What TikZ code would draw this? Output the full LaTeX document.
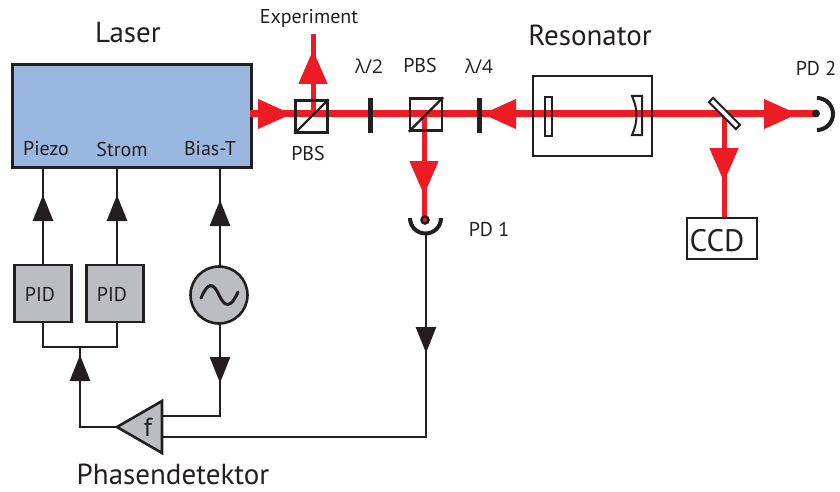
\documentclass[tikz,border=0pt]{standalone}
\usepackage{fontspec}
\setmainfont{PT Sans}
\newfontfamily\greekfont{Open Sans}
\usetikzlibrary{arrows.meta,decorations.markings}
\definecolor{beamred}{HTML}{ED1C24}
\definecolor{ink}{HTML}{231F20}
\definecolor{laserblue}{HTML}{9AB7DF}
\definecolor{boxgray}{HTML}{BBBDC0}
\newcommand{\fsz}[1]{\fontsize{#1}{#1}\selectfont}
\tikzset{
  wire/.style={draw=ink,line width=2.6pt},
  beam/.style={draw=beamred,line width=7pt},
  thinbeam/.style={draw=beamred,line width=5pt},
  blackhead/.style={postaction={decorate,decoration={markings,mark=at position #1 with {\arrow{Triangle[length=26pt,width=20pt,fill=ink]}}}}},
  redhead/.style={postaction={decorate,decoration={markings,mark=at position #1 with {\arrow[beamred]{Triangle[length=34pt,width=28pt,fill=beamred]}}}}},
  optic/.style={draw=ink,line width=2.4pt},
  plate/.style={draw=ink,fill=ink,inner sep=0pt,minimum width=3pt,minimum height=33pt,line width=2pt},
  pidbox/.style={draw=ink,line width=2.6pt,fill=boxgray,minimum width=57pt,minimum height=57pt,inner sep=0pt},
  lbl/.style={inner sep=0pt,text=ink,font=\fsz{20}},
  biglbl/.style={inner sep=0pt,text=ink,font=\fsz{29}},
  cube/.style={draw=ink,line width=2.4pt,minimum size=32pt,inner sep=0pt}
}
\begin{document}
\begin{tikzpicture}[x=1pt,y=-1pt]
\useasboundingbox (0,0) rectangle (840,492);
% laser
\node[draw=ink,line width=3pt,fill=laserblue,minimum width=239pt,minimum height=102pt,inner sep=0pt] (laser) at (131.5,116) {};
\coordinate (laserout) at (250,114);
\coordinate (lamfourin) at (482,114);
\coordinate (bsc) at (724,114);
\coordinate (pdtwoc) at (816,114);
\coordinate (pdonec) at (424,219);
\coordinate (expout) at (313,34);
\coordinate (pbsaout) at (313,114);
\coordinate (pbsbout) at (424,114);
% beams
\draw[thinbeam,redhead=64pt] (pbsaout) -- (expout);
\draw[thinbeam,redhead=81pt] (pbsbout) -- (pdonec);
\node[draw=ink,line width=2.6pt,minimum width=70pt,minimum height=41pt,inner sep=0pt] (ccd) at (722,238.5) {};
\draw[thinbeam,redhead=68pt] (bsc) -- (bsc |- ccd.north);
\draw[beam,redhead=42pt] (laserout) -- (lamfourin);
\draw[beam,redhead=242pt] (bsc) -- (lamfourin);
\draw[beam,redhead=74pt] (bsc) -- (pdtwoc);
% optics
\node[cube] (pbsa) at (311.5,116.5) {};
\draw[optic] (pbsa.south west) -- (pbsa.north east);
\node[cube] (pbsb) at (426,114.5) {};
\draw[optic] (pbsb.south west) -- (pbsb.north east);
\node[plate] (lamtwo) at (370,115.5) {};
\node[plate] (lamfour) at (479.5,115.5) {};
\node[draw=ink,line width=2.4pt,minimum width=119pt,minimum height=80pt,inner sep=0pt] (res) at (592.5,116) {};
\node[draw=ink,line width=2pt,minimum width=7pt,minimum height=38pt,inner sep=0pt] (mirrora) at (548,116.5) {};
\draw[optic,line width=2pt] (632,96) -- (642,96) -- (642,135) -- (632,135) .. controls (638,122) and (638,109) .. (632,96) -- cycle;
\node[draw=ink,fill=white,line width=2pt,minimum width=38pt,minimum height=6pt,inner sep=0pt,rotate=-45] (splitter) at (724.5,113.5) {};
% detectors
\node[circle,fill=ink,minimum size=8pt,inner sep=0pt] (pdtwo) at (816,113.5) {};
\draw[draw=ink,line width=4pt] (817,98) arc[start angle=-90,end angle=90,radius=16];
\node[circle,draw=ink,fill=beamred,line width=2.5pt,minimum size=7pt,inner sep=0pt] (pdone) at (425,220) {};
\draw[draw=ink,line width=4pt] (410,218) arc[start angle=180,end angle=0,radius=15.5];
\coordinate (pdoneb) at (426,234);
% electronics
\node[pidbox] (pida) at (43,293.5) {};
\node[pidbox] (pidb) at (115,293.5) {};
\node[circle,draw=ink,line width=2.6pt,fill=boxgray,minimum size=57pt,inner sep=0pt] (osc) at (219,295) {};
\draw[draw=ink,line width=3pt,line cap=round] (201,298) .. controls (208,282) and (213,282) .. (219,295) .. controls (225,308) and (231,308) .. (238,292);
\draw[draw=ink,line width=2.6pt,fill=boxgray,line join=miter] (117,427) -- (162,401) -- (162,453) -- cycle;
\coordinate (phasein) at (162,416);
\coordinate (phaseinb) at (162,437);
\coordinate (phaseout) at (117,427);
\coordinate (joint) at (80,347);
% wires
\draw[wire,blackhead=70pt] (43,265) -- (43,167);
\draw[wire,blackhead=70pt] (117,265) -- (117,167);
\draw[wire,blackhead=66pt] (220,266) -- (220,167);
\draw[wire] (43,322) -- (43,347) -- (117,347) -- (117,322);
\draw[wire,blackhead=109pt] (phaseout) -- (80,427) -- (joint);
\draw[wire,blackhead=59pt] (220,324) -- (220,416) -- (phasein);
\draw[wire,blackhead=119pt] (pdoneb) -- (426,437) -- (phaseinb);
% labels
\node[biglbl] (tlaser) at (128,33) {Laser};
\node[biglbl] (tres) at (590,35) {Resonator};
\node[biglbl,anchor=base] (tphase) at (173,484) {Phasendetektor};
\node[lbl,font=\fsz{25}] (tccd) at (717,241) {\fsz{31}CCD};
\node[lbl] (tpida) at (40,295) {PID};
\node[lbl] (tpidb) at (112,295) {PID};
\node[lbl,font=\fsz{26}] (fnode) at (148,427) {f};
\node[lbl] (texp) at (309,18) {Experiment};
\node[lbl] (tpbsa) at (308,153) {PBS};
\node[lbl] (tpbsb) at (420,66) {PBS};
\node[lbl] (tlta) at (369,66) {\greekfont\fsz{19}λ/2};
\node[lbl] (tltb) at (479,66) {\greekfont\fsz{19}λ/4};
\node[lbl] (tpdtwo) at (816,68) {PD 2};
\node[lbl] (tpdone) at (489,229) {PD 1};
\node[lbl] (tpiezo) at (46,149) {Piezo};
\node[lbl] (tstrom) at (122,149) {Strom};
\node[lbl] (tbias) at (210,149) {Bias-T};
\end{tikzpicture}
\end{document}
